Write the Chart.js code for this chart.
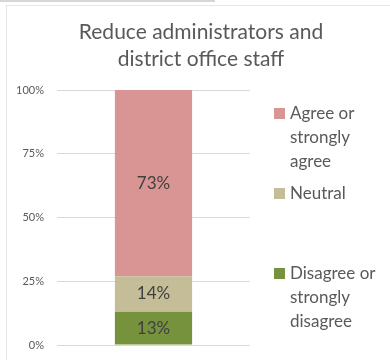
<!DOCTYPE html>
<html>
<head>
<meta charset="utf-8">
<script src="https://cdn.jsdelivr.net/npm/chart.js@4/dist/chart.umd.min.js"></script>
<style>
  html, body { margin: 0; padding: 0; background: #fff; }
  #wrap { position: relative; width: 390px; height: 360px; overflow: hidden; }
  #chart { position: absolute; left: 0; top: 0; }
  #topline { position: absolute; left: 0; top: 0; width: 215px; height: 2px; background: #d6d6d6; }
  #frame { position: absolute; left: 6px; top: 5px; width: 400px; height: 400px; border: 1px solid #e6e6e6; }
  #title { position: absolute; left: 40px; top: 17px; width: 322px; text-align: center; font-family: Lato, sans-serif; font-size: 21px; line-height: 27px; color: #595959; }
  #legend { position: absolute; left: 274px; top: 101px; font-family: Lato, sans-serif; font-size: 17px; color: #595959; }
  .item { position: relative; height: 80px; }
  .box { position: absolute; left: 0; top: 7px; width: 11px; height: 11px; }
  .txt { position: absolute; left: 16px; top: 0; width: 100px; line-height: 24px; }
</style>
</head>
<body>
<div id="wrap">
  <div id="topline"></div>
  <div id="frame"></div>
  <canvas id="chart" width="390" height="360"></canvas>
  <div id="title">Reduce administrators and<br>district office staff</div>
  <div id="legend"></div>
</div>
<script>
const categories = ["Reduce administrators and district office staff"];
const seriesNames = ["Disagree or strongly disagree", "Neutral", "Agree or strongly agree"];
const disagree = [13];
const neutral = [14];
const agree = [73];
const seriesColors = ["#76923c", "#c4bd97", "#d99594"];
const yTicks = [0, 25, 50, 75, 100];

const seriesValues = [disagree, neutral, agree];

// value labels in the middle of each segment
const barLabels = {
  id: "barLabels",
  afterDatasetsDraw(chart) {
    const ctx = chart.ctx;
    ctx.save();
    ctx.font = "17px Lato, sans-serif";
    ctx.fillStyle = "#404040";
    ctx.textAlign = "center";
    ctx.textBaseline = "middle";
    chart.data.datasets.forEach((ds, i) => {
      chart.getDatasetMeta(i).data.forEach((bar, j) => {
        ctx.fillText(ds.data[j] + "%", bar.x, (bar.y + bar.base) / 2);
      });
    });
    ctx.restore();
  },
};

const ctx = document.getElementById("chart").getContext("2d");
const chart = new Chart(ctx, {
  type: "bar",
  data: {
    labels: categories,
    datasets: seriesNames.map((name, i) => ({
      label: name,
      data: seriesValues[i],
      backgroundColor: seriesColors[i],
      barPercentage: 0.8,
      categoryPercentage: 0.5,
    })),
  },
  options: {
    responsive: false,
    animation: false,
    layout: { padding: { left: 0, right: 140, top: 90, bottom: 15 } },
    plugins: {
      legend: { display: false },
      tooltip: { enabled: false },
      title: { display: false },
    },
    scales: {
      x: { stacked: true, display: false },
      y: {
        stacked: true,
        min: 0,
        max: 100,
        afterBuildTicks: (scale) => {
          scale.ticks = yTicks.map((v) => ({ value: v }));
        },
        afterFit: (scale) => {
          scale.width = 57;
          // layout padding already leaves room for the end labels
          scale.paddingTop = 0;
          scale.paddingBottom = 0;
        },
        ticks: {
          color: "#595959",
          font: { family: "Lato, sans-serif", size: 11 },
          padding: 13,
          callback: (v) => v + "%",
        },
        grid: { color: "#d9d9d9", drawTicks: false },
        border: { display: false },
      },
    },
  },
  plugins: [barLabels],
});

// legend, top item first like the reference
const legend = document.getElementById("legend");
for (let i = seriesNames.length - 1; i >= 0; i--) {
  const item = document.createElement("div");
  item.className = "item";
  item.innerHTML =
    '<div class="box" style="background:' + seriesColors[i] + '"></div>' +
    '<div class="txt">' + seriesNames[i] + "</div>";
  legend.appendChild(item);
}
</script>
</body>
</html>
